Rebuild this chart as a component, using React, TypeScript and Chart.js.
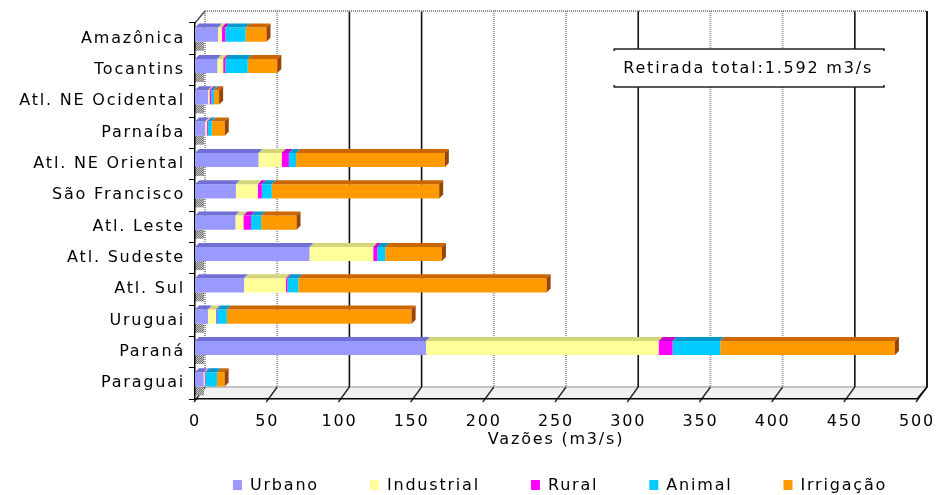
import React, { useEffect, useRef } from "react";
import { Chart, registerables } from "chart.js";

Chart.register(...registerables);

// ---------- data ----------
const categories = [
  "Amazônica",
  "Tocantins",
  "Atl. NE Ocidental",
  "Parnaíba",
  "Atl. NE Oriental",
  "São Francisco",
  "Atl. Leste",
  "Atl. Sudeste",
  "Atl. Sul",
  "Uruguai",
  "Paraná",
  "Paraguai",
];
const seriesNames = ["Urbano", "Industrial", "Rural", "Animal", "Irrigação"];
const urbano = [16, 15.5, 9, 7, 44, 28.3, 28, 79.3, 34, 9, 160, 6];
const industrial = [2.5, 4, 1, 1.2, 16, 15.2, 5.5, 44.1, 29, 5.5, 161, 0.7];
const rural = [2.5, 1.5, 1.2, 0.7, 5, 2.8, 5.3, 2.8, 1, 0.5, 9.7, 0.5];
const animal = [14, 15.5, 2, 2.7, 5, 6.9, 7, 5.5, 7.5, 7, 33, 8];
const irrigacao = [14.5, 20.5, 3.5, 9, 103, 115.9, 24.5, 39.3, 172, 128, 121, 5.3];
const xMin = 0;
const xMax = 500;
const xStep = 50;
const xTitle = "Vazões (m3/s)";
const annotationText = "Retirada total:1.592 m3/s";

// ---------- style ----------
const FRONT_COLORS = ["#9999FF", "#FFFF99", "#FF00FF", "#00CCFF", "#FF9900"];
const TOP_COLORS = ["#6F6FD6", "#D4D47A", "#CC00CC", "#0099CC", "#CC6600"];
const END_COLORS = ["#5555AA", "#AAAA55", "#990099", "#007799", "#994400"];
const SOLID_GRID = [100, 150, 300, 450, 500];
const DEPTH_X = 10;
const DEPTH_Y = 12;
const BAR_D = 4;
const BAR_SHIFT = -4;
const LETTER_SPACING = "1.8px";
const FONT = { family: "'DejaVu Sans', Verdana, sans-serif", size: 16 };

function makePattern(ctx: CanvasRenderingContext2D) {
  const c = document.createElement("canvas");
  c.width = 2;
  c.height = 2;
  const p = c.getContext("2d")!;
  p.fillStyle = "#c8c8c8";
  p.fillRect(0, 0, 2, 2);
  p.fillStyle = "#707070";
  p.fillRect(0, 0, 1, 1);
  p.fillRect(1, 1, 1, 1);
  return ctx.createPattern(c, "repeat");
}

const threeD = {
  id: "threeD",
  beforeLayout(chart: any) {
    chart.ctx.letterSpacing = LETTER_SPACING;
  },
  beforeDraw(chart: any) {
    const ctx: CanvasRenderingContext2D = chart.ctx;
    (ctx as any).letterSpacing = LETTER_SPACING;
    const { left, right, top, bottom } = chart.chartArea;
    const xs = chart.scales.x;
    const backTop = top - DEPTH_Y;
    const backBottom = bottom - DEPTH_Y;
    ctx.save();
    // floor
    ctx.fillStyle = "#f1f1f1";
    ctx.beginPath();
    ctx.moveTo(left, bottom);
    ctx.lineTo(right, bottom);
    ctx.lineTo(right + DEPTH_X, backBottom);
    ctx.lineTo(left + DEPTH_X, backBottom);
    ctx.closePath();
    ctx.fill();
    ctx.strokeStyle = "#b0b0b0";
    ctx.lineWidth = 1.5;
    ctx.beginPath();
    ctx.moveTo(left + DEPTH_X, backBottom);
    ctx.lineTo(right + DEPTH_X, backBottom);
    ctx.stroke();

    // back wall grid lines
    xs.ticks.forEach((t: any) => {
      const xf = xs.getPixelForValue(t.value);
      const xb = xf + DEPTH_X;
      const solid = SOLID_GRID.includes(t.value);
      if (solid) {
        ctx.setLineDash([]);
        ctx.strokeStyle = "#111";
        ctx.lineWidth = 1.6;
      } else {
        ctx.setLineDash([1, 1]);
        ctx.strokeStyle = "#9a9a9a";
        ctx.lineWidth = 2;
      }
      ctx.beginPath();
      ctx.moveTo(xb, backTop);
      ctx.lineTo(xb, backBottom);
      ctx.stroke();
      // floor slant ticks
      ctx.setLineDash([]);
      ctx.strokeStyle = "#222";
      ctx.lineWidth = 1.3;
      ctx.beginPath();
      ctx.moveTo(xf - 1, bottom + 3);
      ctx.lineTo(xb, backBottom);
      ctx.stroke();
    });

    // top back edge
    ctx.setLineDash([1, 1]);
    ctx.strokeStyle = "#8a8a8a";
    ctx.lineWidth = 2;
    ctx.beginPath();
    ctx.moveTo(left + DEPTH_X, backTop);
    ctx.lineTo(right + DEPTH_X, backTop);
    ctx.stroke();
    ctx.setLineDash([]);
    ctx.strokeStyle = "#444";
    ctx.lineWidth = 1.3;
    ctx.beginPath();
    ctx.moveTo(left, top);
    ctx.lineTo(left + DEPTH_X, backTop);
    ctx.stroke();
    // right edge
    ctx.strokeStyle = "#111";
    ctx.lineWidth = 1.6;
    ctx.beginPath();
    ctx.moveTo(right + DEPTH_X, backTop);
    ctx.lineTo(right + DEPTH_X, backBottom);
    ctx.lineTo(right, bottom);
    ctx.stroke();

    // annotation box
    ctx.font = `${FONT.size}px ${FONT.family}`;
    const tw = ctx.measureText(annotationText).width;
    const bw = tw + 20;
    const bh = 38;
    const bx = right + DEPTH_X - 43 - bw;
    const by = top + 26;
    ctx.fillStyle = "#fff";
    ctx.fillRect(bx, by, bw, bh);
    ctx.strokeStyle = "#222";
    ctx.lineWidth = 1.6;
    ctx.beginPath();
    ctx.moveTo(bx, by + 2);
    ctx.lineTo(bx, by);
    ctx.lineTo(bx + bw, by);
    ctx.lineTo(bx + bw, by + 2);
    ctx.moveTo(bx, by + bh - 2);
    ctx.lineTo(bx, by + bh);
    ctx.lineTo(bx + bw, by + bh);
    ctx.lineTo(bx + bw, by + bh - 2);
    ctx.stroke();
    ctx.fillStyle = "#000";
    ctx.textAlign = "left";
    ctx.textBaseline = "middle";
    ctx.fillText(annotationText, bx + 9, by + bh / 2 + 1);

    // gray wall patches under bars
    const pat = makePattern(ctx);
    const meta = chart.getDatasetMeta(0);
    meta.data.forEach((el: any) => {
      const p = el.getProps(["y", "height"], true);
      const yb = p.y + p.height / 2 + BAR_SHIFT;
      ctx.fillStyle = pat || "#999";
      ctx.fillRect(left, yb, DEPTH_X - 1, 9);
    });
    ctx.restore();
  },
  beforeDatasetsDraw(chart: any) {
    chart.ctx.save();
    chart.ctx.translate(0, BAR_SHIFT);
  },
  afterDatasetsDraw(chart: any) {
    const ctx: CanvasRenderingContext2D = chart.ctx;
    const n = chart.data.labels.length;
    const nds = chart.data.datasets.length;
    for (let j = 0; j < n; j++) {
      let last: any = null;
      let lastIdx = -1;
      for (let i = 0; i < nds; i++) {
        const el = chart.getDatasetMeta(i).data[j];
        if (!el) continue;
        const p = el.getProps(["x", "y", "base", "height"], true);
        const x0 = Math.min(p.base, p.x);
        const x1 = Math.max(p.base, p.x);
        if (x1 - x0 < 0.3) continue;
        const yTop = p.y - p.height / 2;
        ctx.fillStyle = TOP_COLORS[i];
        ctx.beginPath();
        ctx.moveTo(x0, yTop);
        ctx.lineTo(x0 + BAR_D, yTop - BAR_D);
        ctx.lineTo(x1 + BAR_D, yTop - BAR_D);
        ctx.lineTo(x1, yTop);
        ctx.closePath();
        ctx.fill();
        last = { x1, yTop, yBot: p.y + p.height / 2 };
        lastIdx = i;
      }
      if (last) {
        ctx.fillStyle = END_COLORS[lastIdx];
        ctx.beginPath();
        ctx.moveTo(last.x1, last.yTop);
        ctx.lineTo(last.x1 + BAR_D, last.yTop - BAR_D);
        ctx.lineTo(last.x1 + BAR_D, last.yBot - BAR_D);
        ctx.lineTo(last.x1, last.yBot);
        ctx.closePath();
        ctx.fill();
      }
    }
    ctx.restore();
  },
  afterDraw(chart: any) {
    const ctx: CanvasRenderingContext2D = chart.ctx;
    ctx.save();
    (ctx as any).letterSpacing = LETTER_SPACING;
    ctx.font = `${FONT.size}px ${FONT.family}`;
    ctx.textBaseline = "middle";
    ctx.textAlign = "left";
    const boxW = 9;
    const boxH = 10;
    const textGap = 8;
    const itemGap = 51;
    const items = chart.data.datasets.map((d: any) => ({
      label: d.label,
      color: d.backgroundColor,
      w: boxW + textGap + ctx.measureText(d.label).width,
    }));
    const total = items.reduce((s: number, it: any) => s + it.w, 0) + itemGap * (items.length - 1);
    const cx = (chart.chartArea.left + chart.chartArea.right) / 2 + 4;
    let x = cx - total / 2;
    const y = chart.height - 10;
    items.forEach((it: any) => {
      ctx.fillStyle = it.color;
      ctx.fillRect(x, y - boxH / 2, boxW, boxH);
      ctx.fillStyle = "#000";
      ctx.fillText(it.label, x + boxW + textGap, y + 1);
      x += it.w + itemGap;
    });
    ctx.restore();
  },
};

export default function App() {
  const ref = useRef<HTMLCanvasElement>(null);
  useEffect(() => {
    const series = [urbano, industrial, rural, animal, irrigacao];
    const chart = new Chart(ref.current as HTMLCanvasElement, {
      type: "bar",
      data: {
        labels: categories,
        datasets: series.map((s, i) => ({
          label: seriesNames[i],
          data: s,
          backgroundColor: FRONT_COLORS[i],
          borderWidth: 0,
          categoryPercentage: 1,
          barPercentage: 0.45,
          clip: false as any,
        })),
      },
      options: {
        indexAxis: "y",
        responsive: false,
        animation: false,
        layout: { padding: { left: 0, right: 20, top: 23, bottom: 44 } },
        plugins: { legend: { display: false }, tooltip: { enabled: false } },
        scales: {
          x: {
            type: "linear",
            stacked: true,
            min: xMin,
            max: xMax,
            ticks: { stepSize: xStep, padding: 5, color: "#000", font: FONT },
            grid: { display: false },
            border: { display: true, color: "#000", width: 1.5 },
            title: {
              display: true,
              text: xTitle,
              color: "#000",
              font: FONT,
              padding: { top: 4, bottom: 2 },
            },
            afterFit: (s: any) => {
              s.height = 52;
            },
          },
          y: {
            stacked: true,
            ticks: { color: "#000", padding: 4, font: FONT },
            grid: {
              display: true,
              drawOnChartArea: false,
              drawTicks: true,
              tickLength: 6,
              color: "#000",
              offset: true,
            },
            border: { display: true, color: "#000", width: 1.5 },
            afterFit: (s: any) => {
              s.width = 195;
            },
          },
        },
      } as any,
      plugins: [threeD],
    });
    return () => chart.destroy();
  }, []);
  return (
    <div style={{ position: "absolute", left: 0, top: 0, width: 940, height: 495, background: "#fff" }}>
      <canvas ref={ref} width={940} height={495} style={{ display: "block" }} />
    </div>
  );
}
